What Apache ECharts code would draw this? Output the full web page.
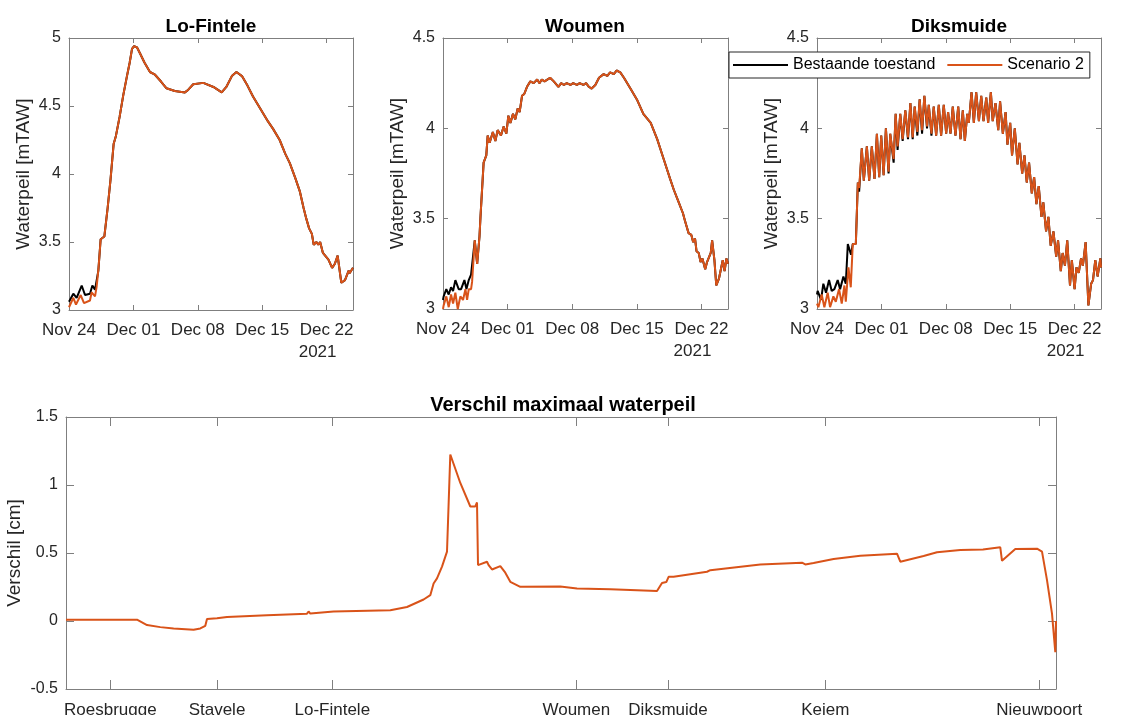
<!DOCTYPE html>
<html>
<head>
<meta charset="utf-8">
<title>Waterpeil</title>
<script src="https://cdn.jsdelivr.net/npm/echarts@6/dist/echarts.min.js"></script>
<style>
    html, body {margin: 0; padding: 0; background: #fff;}
    #main {width: 1130px; height: 715px;}
</style>
</head>
<body>
<div id="main"></div>
<script>
// tijdas: dagen sinds 24 nov 2021
var dayTicks = [0, 7, 14, 21, 28];
var dayLabels = ['Nov 24', 'Dec 01', 'Dec 08', 'Dec 15', 'Dec 22'];
var dayMax = 30.87;

// Lo-Fintele
var loScen = [[0,3.02],[0.1,3.03],[0.47,3.09],[0.76,3.04],[1.27,3.11],[1.63,3.05],[2.28,3.07],[2.46,3.13],[2.83,3.10],[3.0,3.17],[3.2,3.30],
    [3.44,3.52],[3.84,3.54],[4.2,3.75],[4.5,3.95],[4.85,4.22],[5.1,4.28],[5.5,4.42],[5.9,4.58],[6.3,4.72],[6.6,4.82],[6.85,4.92],
    [7.07,4.94],[7.4,4.93],[7.7,4.89],[8.2,4.82],[8.8,4.75],[9.35,4.73],[10.0,4.68],[10.6,4.63],[11.5,4.61],[12.6,4.60],[12.97,4.62],
    [13.5,4.66],[14.6,4.67],[15.7,4.64],[16.6,4.60],[17.1,4.64],[17.7,4.72],[18.2,4.75],[18.8,4.72],[19.4,4.65],[20.0,4.57],[20.8,4.48],
    [21.5,4.40],[22.2,4.33],[22.9,4.25],[23.5,4.15],[24.0,4.08],[24.6,3.97],[25.1,3.87],[25.5,3.75],[25.8,3.67],[26.1,3.60],[26.4,3.56],
    [26.6,3.48],[26.9,3.50],[27.1,3.48],[27.3,3.50],[27.6,3.42],[28.2,3.37],[28.6,3.31],[28.9,3.34],[29.2,3.40],[29.5,3.25],[29.6,3.20],
    [30.0,3.22],[30.4,3.29],[30.5,3.27],[30.87,3.31]];
var loBaseStart = [[0,3.06],[0.1,3.07],[0.47,3.12],[0.83,3.09],[1.38,3.18],[1.74,3.11],[2.28,3.12],[2.54,3.18],[2.83,3.15],[3.19,3.29]];

// Woumen
var woScen = [[0,3.0],[0.07,3.02],[0.36,3.07],[0.62,3.01],[0.87,3.08],[1.09,3.03],[1.34,3.09],[1.6,3.0],[1.88,3.07],[2.17,3.05],[2.43,3.11],
    [2.61,3.05],[2.79,3.11],[3.04,3.11],[3.15,3.15],[3.44,3.38],[3.7,3.25],[3.95,3.40],[4.06,3.51],[4.4,3.81],[4.69,3.85],[4.84,3.96],
    [5.05,3.92],[5.4,3.98],[5.67,3.93],[5.92,3.99],[6.28,3.96],[6.57,4.01],[6.86,3.97],[7.08,4.07],[7.3,4.03],[7.58,4.08],[7.83,4.05],
    [8.09,4.11],[8.3,4.09],[8.56,4.18],[8.8,4.19],[9.1,4.23],[9.46,4.26],[9.82,4.25],[10.2,4.27],[10.45,4.25],[10.7,4.27],[11.0,4.26],
    [11.3,4.27],[11.6,4.28],[12.0,4.26],[12.5,4.23],[12.8,4.25],[13.1,4.24],[13.4,4.25],[13.8,4.24],[14.1,4.25],[14.5,4.24],[14.8,4.25],
    [15.2,4.24],[15.5,4.25],[15.8,4.23],[16.1,4.22],[16.5,4.24],[16.9,4.28],[17.4,4.30],[17.8,4.29],[18.1,4.31],[18.5,4.30],[18.8,4.32],
    [19.2,4.31],[19.6,4.28],[20.3,4.22],[21.0,4.16],[21.7,4.08],[22.5,4.03],[23.2,3.94],[23.9,3.83],[24.6,3.72],[25.0,3.66],[25.46,3.60],
    [25.99,3.53],[26.2,3.49],[26.6,3.42],[26.9,3.41],[27.1,3.37],[27.3,3.39],[27.46,3.32],[27.7,3.31],[27.9,3.26],[28.1,3.28],[28.3,3.24],
    [28.4,3.22],[28.6,3.26],[28.8,3.25],[29.0,3.31],[29.15,3.38],[29.4,3.27],[29.6,3.13],[29.9,3.17],[30.07,3.17],[30.3,3.27],[30.5,3.21],
    [30.7,3.28],[30.87,3.25]];
var woBaseStart = [[0,3.05],[0.07,3.07],[0.36,3.11],[0.62,3.08],[0.87,3.12],[1.09,3.10],[1.34,3.16],[1.7,3.11],[1.96,3.11],[2.32,3.16],
    [2.54,3.11],[2.79,3.16],[3.04,3.19]];

// Diksmuide
var dikScen = [[0,3.03],[0.15,3.01],[0.51,3.08],[0.8,3.01],[1.16,3.09],[1.42,3.01],[1.78,3.07],[2.04,3.04],[2.4,3.11],[2.69,3.03],[2.98,3.13],
    [3.13,3.04],[3.42,3.23],[3.67,3.12],[3.89,3.36],[4.07,3.35],[4.22,3.36],[4.44,3.70],[4.58,3.67],[4.87,3.89],[5.09,3.71],[5.42,3.90],
    [5.67,3.71],[5.96,3.90],[6.25,3.72],[6.51,3.97],[6.76,3.73],[6.98,3.96],[7.24,3.74],[7.49,4.00],[7.78,3.76],[7.96,3.97],[8.33,3.83],
    [8.55,4.08],[8.76,3.90],[9.05,4.08],[9.31,3.94],[9.6,4.10],[9.89,3.95],[10.15,4.14],[10.4,3.95],[10.62,4.12],[10.91,3.98],[11.16,4.16],
    [11.42,3.99],[11.67,4.18],[11.96,4.01],[12.15,4.13],[12.44,3.97],[12.69,4.12],[12.95,3.96],[13.24,4.13],[13.49,3.96],[13.78,4.13],
    [14.04,3.97],[14.25,4.09],[14.51,3.97],[14.76,4.12],[15.05,3.96],[15.35,4.12],[15.6,3.94],[15.85,4.10],[16.07,3.93],[16.33,4.08],
    [16.5,4.03],[16.8,4.20],[17.05,4.03],[17.3,4.20],[17.6,4.04],[17.85,4.18],[18.1,4.04],[18.4,4.17],[18.6,4.03],[18.9,4.20],[19.1,4.04],
    [19.4,4.14],[19.7,3.99],[19.9,4.15],[20.2,3.97],[20.5,4.09],[20.7,3.91],[21.0,4.03],[21.2,3.85],[21.5,4.00],[21.8,3.80],[22.0,3.92],
    [22.3,3.75],[22.55,3.85],[22.8,3.70],[23.05,3.81],[23.35,3.64],[23.6,3.73],[23.85,3.58],[24.1,3.68],[24.4,3.51],[24.6,3.59],[24.9,3.43],
    [25.15,3.51],[25.4,3.35],[25.7,3.43],[26.0,3.29],[26.2,3.38],[26.5,3.21],[26.7,3.31],[26.95,3.24],[27.2,3.38],[27.5,3.13],[27.7,3.27],
    [28.0,3.11],[28.2,3.23],[28.45,3.20],[28.7,3.28],[28.9,3.24],[29.2,3.37],[29.5,3.02],[29.8,3.14],[30.0,3.16],[30.25,3.27],[30.5,3.18],
    [30.8,3.28],[30.87,3.23]];
var dikBase = [[0,3.08],[0.07,3.10],[0.44,3.05],[0.69,3.14],[0.98,3.09],[1.31,3.16],[1.6,3.10],[1.89,3.11],[2.25,3.16],[2.51,3.11],[2.87,3.18],
    [3.13,3.14],[3.35,3.36],[3.55,3.35],[3.7,3.30],[3.89,3.36],[4.07,3.35],[4.22,3.36],[4.44,3.70],[4.58,3.65],[4.87,3.89],[5.09,3.71],
    [5.42,3.90],[5.67,3.71],[5.96,3.90],[6.25,3.72],[6.51,3.97],[6.76,3.73],[6.98,3.96],[7.24,3.74],[7.49,4.00],[7.78,3.75],[7.96,3.97],
    [8.33,3.81],[8.55,4.08],[8.76,3.88],[9.05,4.08],[9.31,3.93],[9.6,4.10],[9.89,3.94],[10.15,4.14],[10.4,3.94],[10.62,4.12],[10.91,3.96],
    [11.16,4.16],[11.42,3.97],[11.67,4.18],[11.96,4.00],[12.15,4.13],[12.44,3.96],[12.69,4.12],[12.95,3.96],[13.24,4.13],[13.49,3.96],
    [13.78,4.13],[14.04,3.97],[14.25,4.09],[14.51,3.97],[14.76,4.12],[15.05,3.96],[15.35,4.12],[15.6,3.94],[15.85,4.10],[16.07,3.93],
    [16.33,4.08],[16.5,4.03],[16.8,4.20],[17.05,4.03],[17.3,4.20],[17.6,4.04],[17.85,4.18],[18.1,4.04],[18.4,4.17],[18.6,4.03],[18.9,4.20],
    [19.1,4.04],[19.4,4.14],[19.7,3.99],[19.9,4.15],[20.2,3.97],[20.5,4.09],[20.7,3.91],[21.0,4.03],[21.2,3.85],[21.5,4.00],[21.8,3.80],
    [22.0,3.92],[22.3,3.75],[22.55,3.85],[22.8,3.70],[23.05,3.81],[23.35,3.64],[23.6,3.73],[23.85,3.58],[24.1,3.68],[24.4,3.51],[24.6,3.59],
    [24.9,3.43],[25.15,3.51],[25.4,3.35],[25.7,3.43],[26.0,3.29],[26.2,3.38],[26.5,3.21],[26.7,3.31],[26.95,3.24],[27.2,3.38],[27.5,3.13],
    [27.7,3.27],[28.0,3.11],[28.2,3.23],[28.45,3.20],[28.7,3.28],[28.9,3.24],[29.2,3.37],[29.5,3.02],[29.8,3.14],[30.0,3.16],[30.25,3.27],
    [30.5,3.18],[30.8,3.28],[30.87,3.23]];

// onderste figuur: verschil langs de rivier (afstand, verschil in cm)
var stationPos = [4.43, 15.1, 26.63, 51.03, 60.2, 75.93, 97.33];
var stationNames = ['Roesbrugge', 'Stavele', 'Lo-Fintele', 'Woumen', 'Diksmuide', 'Keiem', 'Nieuwpoort'];
var afstandMax = 99;
var verschil = [[0,0.01],[7.1,0.01],[8.1,-0.03],[9.43,-0.045],[10.76,-0.055],[12.76,-0.065],[13.43,-0.055],[13.93,-0.035],[14.1,0.015],
    [15.1,0.02],[16.1,0.03],[20.1,0.042],[24.1,0.054],[24.26,0.07],[24.43,0.055],[26.76,0.069],[32.43,0.079],[34.1,0.103],[35.76,0.158],
    [36.43,0.19],[36.76,0.276],[37.1,0.313],[37.6,0.40],[38.1,0.51],[38.43,1.224],[39.43,1.015],[40.43,0.842],[40.93,0.842],[41.1,0.872],
    [41.2,0.411],[42.1,0.436],[42.26,0.411],[42.6,0.379],[43.43,0.404],[43.93,0.355],[44.43,0.288],[45.43,0.251],[49.43,0.254],[51.1,0.239],
    [54.43,0.234],[59.1,0.22],[59.6,0.28],[60.03,0.286],[60.26,0.325],[60.76,0.325],[64.1,0.362],[64.43,0.374],[69.43,0.416],[73.6,0.429],
    [73.93,0.416],[74.76,0.426],[76.76,0.456],[79.43,0.48],[83.1,0.495],[83.43,0.436],[85.76,0.478],[87.1,0.505],[89.43,0.522],[91.7,0.525],
    [91.83,0.539],[93.43,0.542],[93.6,0.443],[94.93,0.53],[97.1,0.532],[97.6,0.51],[98.1,0.30],[98.6,0.054],[98.93,-0.229],[99,0]];

var FONT = 'Liberation Sans, Arial, Helvetica, sans-serif';
var TXT = '#262626';
var LINE = '#7f7f7f';
var ORANJE = '#D95319';

function clone(o){
    return JSON.parse(JSON.stringify(o));
}

//x-as onder (met labels) + x-as boven (alleen ticks)
function xAxes(gi, max, ticks, fmt, tickLen, margin){
    var base = {
        type: 'value', gridIndex: gi, min: 0, max: max,
        axisLine: {show: true, onZero: false, lineStyle: {color: LINE, width: 1}},
        axisTick: {show: true, inside: true, length: tickLen, customValues: ticks, lineStyle: {color: LINE}},
        splitLine: {show: false}
    };
    var bottom = clone(base);
    bottom.position = 'bottom';
    bottom.axisLabel = {
        customValues: ticks, formatter: fmt, color: TXT, fontSize: 17, fontFamily: FONT, margin: margin, lineHeight: 22,
        rich: {yr: {color: TXT, fontSize: 17, fontFamily: FONT, padding: [0, 18, 0, 0]}}
    };
    var top = clone(base);
    top.position = 'top';
    top.axisLabel = {show: false};
    return [bottom, top];
}

function yAxes(gi, min, max, name, nameGap, tickLen){
    var base = {
        type: 'value', gridIndex: gi, min: min, max: max, interval: 0.5,
        axisLine: {show: true, onZero: false, lineStyle: {color: LINE, width: 1}},
        axisTick: {show: true, inside: true, length: tickLen, lineStyle: {color: LINE}},
        splitLine: {show: false}
    };
    var left = clone(base);
    left.position = 'left';
    left.name = name;
    left.nameLocation = 'middle';
    left.nameGap = nameGap;
    left.nameMoveOverlap = false;   // naam niet automatisch opschuiven
    left.nameTextStyle = {color: TXT, fontSize: 19, fontFamily: FONT};
    left.axisLabel = {color: TXT, fontSize: 16, fontFamily: FONT, margin: 8};
    var right = clone(base);
    right.position = 'right';
    right.axisLabel = {show: false};
    return [left, right];
}

function dayFmt(v){
    var k = dayTicks.indexOf(v);
    if (k < 0) return '';
    return k === dayTicks.length - 1 ? dayLabels[k] + '\n{yr|2021}' : dayLabels[k];
}

function stationFmt(v){
    var k = stationPos.indexOf(v);
    return k < 0 ? '' : stationNames[k];
}

function lijn(name, data, gi, color){
    return {
        name: name, type: 'line', data: data, xAxisIndex: gi * 2, yAxisIndex: gi * 2,
        showSymbol: false, symbol: 'none', silent: true,
        lineStyle: {color: color, width: 2}, itemStyle: {color: color}
    };
}

function titel(text, x, y, size){
    return {text: text, left: x, top: y, textAlign: 'center', padding: 0,
        textStyle: {color: '#000', fontSize: size, fontWeight: 'bold', fontFamily: FONT}};
}

var loBase = loBaseStart.concat(loScen.filter(function(p){ return p[0] >= 3.44; }));
var woBase = woBaseStart.concat(woScen.filter(function(p){ return p[0] >= 3.44; }));

var myChart = echarts.init(document.getElementById('main'));

myChart.setOption({
    animation: false,
    backgroundColor: '#fff',
    title: [
        titel('Lo-Fintele', 211, 17, 19),
        titel('Woumen', 585, 17, 19),
        titel('Diksmuide', 959, 17, 19),
        titel('Verschil maximaal waterpeil', 563, 395, 20)
    ],
    grid: [
        {left: 69, top: 38, width: 284, height: 272, outerBoundsMode: 'none'},
        {left: 443, top: 38, width: 285, height: 271, outerBoundsMode: 'none'},
        {left: 817, top: 38, width: 284, height: 271, outerBoundsMode: 'none'},
        {left: 66, top: 417, width: 990, height: 272, outerBoundsMode: 'none'}
    ],
    xAxis: [].concat(
        xAxes(0, dayMax, dayTicks, dayFmt, 5, 9),
        xAxes(1, dayMax, dayTicks, dayFmt, 5, 9),
        xAxes(2, dayMax, dayTicks, dayFmt, 5, 9),
        xAxes(3, afstandMax, stationPos, stationFmt, 9, 10)
    ),
    yAxis: [].concat(
        yAxes(0, 3, 5, 'Waterpeil [mTAW]', 36, 5),
        yAxes(1, 3, 4.5, 'Waterpeil [mTAW]', 36, 5),
        yAxes(2, 3, 4.5, 'Waterpeil [mTAW]', 36, 5),
        yAxes(3, -0.5, 1.5, 'Verschil [cm]', 42, 8)
    ),
    legend: {
        data: ['Bestaande toestand', 'Scenario 2'],
        left: 729, top: 52,
        icon: 'rect', itemWidth: 55, itemHeight: 2, itemGap: 12,
        padding: [5, 6, 5, 4],
        borderColor: '#262626', borderWidth: 1, borderRadius: 0,
        backgroundColor: '#fff',
        selectedMode: false,
        textStyle: {color: '#000', fontSize: 16, fontFamily: FONT}
    },
    series: [
        lijn('Bestaande toestand', loBase, 0, '#000'),
        lijn('Scenario 2', loScen, 0, ORANJE),
        lijn('Bestaande toestand', woBase, 1, '#000'),
        lijn('Scenario 2', woScen, 1, ORANJE),
        lijn('Bestaande toestand', dikBase, 2, '#000'),
        lijn('Scenario 2', dikScen, 2, ORANJE),
        lijn('Verschil', verschil, 3, ORANJE)
    ]
});
</script>
</body>
</html>
